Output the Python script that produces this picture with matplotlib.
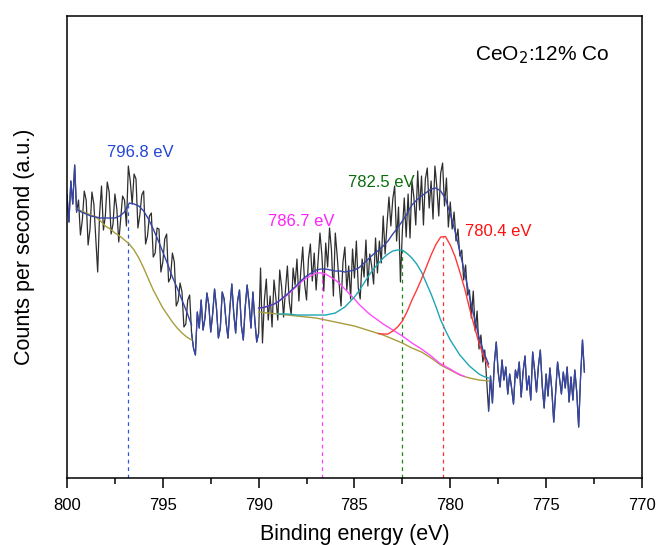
import numpy as np
import matplotlib.pyplot as plt
from matplotlib.ticker import MultipleLocator

plt.rcParams['font.family'] = ['Liberation Sans', 'DejaVu Sans']

# raw Co 2p spectrum, 0.1 eV steps starting at 800.0 eV
counts = [
    # 800.0 - 793.5
    285, 258, 299, 276, 315, 268, 280, 245, 260, 289,
    280, 235, 251, 288, 276, 241, 208, 266, 294, 250,
    264, 298, 288, 246, 256, 286, 271, 238, 261, 284,
    280, 254, 314, 299, 276, 306, 301, 252, 265, 285,
    289, 236, 244, 264, 267, 223, 227, 252, 251, 208,
    218, 241, 246, 198, 202, 227, 218, 174, 179, 197,
    188, 153, 156, 180, 185, 147,
    # 793.4 - 790.1
    132, 125, 168, 152, 180, 150, 162, 187, 175, 148,
    166, 191, 172, 142, 152, 188, 181, 158, 142, 172,
    196, 167, 147, 179, 190, 154, 140, 173, 195, 177,
    152, 188, 160, 138,
    # 790.0 - 778.1
    147, 212, 137, 180, 201, 160, 184, 153, 200, 182,
    160, 210, 193, 163, 190, 214, 178, 165, 212, 195,
    221, 179, 209, 233, 196, 180, 221, 236, 199, 227,
    190, 218, 247, 225, 189, 237, 213, 252, 230, 184,
    247, 224, 197, 174, 218, 233, 190, 214, 181, 231,
    202, 239, 192, 181, 221, 203, 240, 194, 226, 214,
    196, 242, 207, 239, 217, 264, 226, 256, 283, 254,
    281, 294, 239, 273, 198, 249, 282, 243, 286, 242,
    299, 283, 255, 309, 270, 304, 255, 301, 312, 272,
    299, 261, 314, 293, 264, 307, 317, 274, 302, 253,
    278, 251, 268, 239, 251, 224, 230, 200, 215, 185,
    190, 162, 189, 149, 169, 131, 145, 118, 130, 99,
    # 778.0 - 773.0
    69, 104, 77, 117, 138, 108, 93, 120, 100, 113,
    86, 106, 92, 76, 110, 102, 118, 83, 108, 124,
    90, 104, 80, 128, 110, 88, 114, 130, 94, 72,
    106, 84, 112, 90, 58, 88, 118, 102, 86, 108,
    92, 113, 78, 103, 80, 110, 88, 53, 103, 140,
    108]
energy = 800.0 - 0.1 * np.arange(len(counts))

# Co 2p1/2 fit window
e_fit1 = np.arange(799.5, 793.49, -0.25)
bg_fit1 = [271, 269, 267, 265, 263, 259, 254, 251, 247, 244, 240, 236, 230,
           222, 212, 201, 190, 181, 172, 165, 158, 152, 147, 143, 140]
env_fit1 = [271, 268, 266, 264, 263, 262, 262, 262, 262, 264, 268, 277, 276,
            274, 269, 261, 251, 240, 228, 216, 203, 192, 180, 168, 155]

# Co 2p3/2 fit window: Shirley background and peak heights above it
e_fit2 = np.arange(790.0, 777.99, -0.25)
bg_fit2 = [168, 167.5, 167, 166.5, 166, 165.5, 165, 164.5, 164, 163.5, 163,
           162.5, 162, 161, 160, 159, 158, 157, 156, 155, 154, 152.5, 151,
           149.5, 148, 146.5, 145, 143, 141, 139, 137, 134.5, 132, 130, 128,
           125, 122, 118.5, 115, 112.5, 110, 107.5, 105, 103.5, 102, 101,
           100, 99.5, 99]
peak_7867 = [4, 5, 7, 9, 12, 16, 20, 25, 30, 35, 39, 42, 45, 46, 46, 44, 42,
             39, 35, 31, 27, 23, 20, 17, 15, 13, 11, 10, 9, 8, 7, 6, 5, 4, 3,
             2.5, 2, 1.5, 1, 1, 1, 0.5, 0.5, 0, 0, 0, 0, 0, 0]
peak_7825 = [0, 0, 0, 0, 0, 0.5, 1, 1, 1, 1.5, 2, 2.5, 3, 4, 5, 7, 9, 13, 17,
             23, 29, 37, 46, 55, 63, 70, 77, 83, 88, 91, 93, 92, 90, 86, 80,
             72, 64, 55, 45, 37, 30, 25, 20, 16, 12, 9, 6, 4, 3]
peak_7804 = [0, 0, 0, 0, 0, 0, 0, 0, 0, 0, 0, 0, 0, 0, 0, 0, 0, 0, 0, 0, 0,
             0, 0, 0, 0, 0, 1, 3, 8, 14, 22, 34, 48, 60, 73, 88, 103, 117,
             128, 131, 125, 116, 103, 88, 70, 53, 37, 24, 14]

labels = ['796.8 eV', '786.7 eV', '782.5 eV', '780.4 eV']
centers = [796.8, 786.7, 782.5, 780.4]

counts = np.array(counts, dtype=float)
bg2 = np.array(bg_fit2)
heights = [np.array(peak_7867), np.array(peak_7825), np.array(peak_7804)]
env2 = bg2 + sum(heights)

c_raw = '#2e2e2e'
c_env = '#3545a8'
c_bg = '#a89d3c'
comp_cols = ['#ff4cff', '#1fa5b5', '#ff3a3a']

fig = plt.figure(figsize=(6.57, 5.45), dpi=100)
ax = fig.add_axes([0.102, 0.1229, 0.875, 0.8477])

ax.plot(energy, counts, color=c_raw, lw=0.9, zorder=1)

# outside the fit windows the envelope follows the data
for lo, hi in [(799.5, 800.0), (790.0, 793.5), (773.0, 778.0)]:
    m = (energy >= lo - 0.01) & (energy <= hi + 0.01)
    ax.plot(energy[m], counts[m], color=c_env, lw=0.9, zorder=2)

ax.plot(e_fit1, bg_fit1, color=c_bg, lw=1.0, zorder=3)
ax.plot(e_fit1, env_fit1, color=c_env, lw=1.0, zorder=5)

ax.plot(e_fit2, bg2, color=c_bg, lw=1.0, zorder=3)
comp_curves = []
for h, col in zip(heights, comp_cols):
    nz = np.nonzero(h)[0]
    i0, i1 = max(nz[0] - 1, 0), min(nz[-1] + 2, len(h))
    y = bg2 + h
    comp_curves.append(y)
    ax.plot(e_fit2[i0:i1], y[i0:i1], color=col, lw=1.0, zorder=4)
ax.plot(e_fit2, env2, color=c_env, lw=1.0, zorder=5)

ymin, ymax = 2, 464
tops = [np.interp(centers[0], e_fit1[::-1], np.array(env_fit1)[::-1])]
tops += [np.interp(c, e_fit2[::-1], y[::-1])
         for c, y in zip(centers[1:], comp_curves)]
line_cols = ['#2f55e8', '#ff40ff', '#1a8a1a', '#ff3030']
text_cols = ['#2346d6', '#ff22ff', '#0b6e0b', '#ff1010']
for c, t, lc in zip(centers, tops, line_cols):
    ax.plot([c, c], [ymin, t], color=lc, lw=0.9, ls=(0, (3, 3)), zorder=2)

text_pos = [(796.15, 328), (787.8, 259), (783.6, 298), (777.5, 249)]
for lab, (x, y), tc in zip(labels, text_pos, text_cols):
    ax.text(x, y, lab, color=tc, fontsize=12, ha='center', va='center')

ax.text(775.2, 425, r'CeO$_2$:12% Co', fontsize=15, ha='center', va='center')

ax.set_xlim(800, 770)
ax.set_ylim(ymin, ymax)
ax.xaxis.set_major_locator(MultipleLocator(5))
ax.xaxis.set_minor_locator(MultipleLocator(2.5))
ax.tick_params(axis='x', which='major', direction='out', length=7, width=1.1,
               labelsize=12, pad=7.5)
ax.tick_params(axis='x', which='minor', direction='out', length=4, width=1.1)
ax.set_yticks([])
for s in ax.spines.values():
    s.set_linewidth(1.1)

ax.set_xlabel('Binding energy (eV)', fontsize=15.5, labelpad=8)
ax.set_ylabel('Counts per second (a.u.)', fontsize=15.5, labelpad=23)

fig.savefig('out.png', dpi=100)
